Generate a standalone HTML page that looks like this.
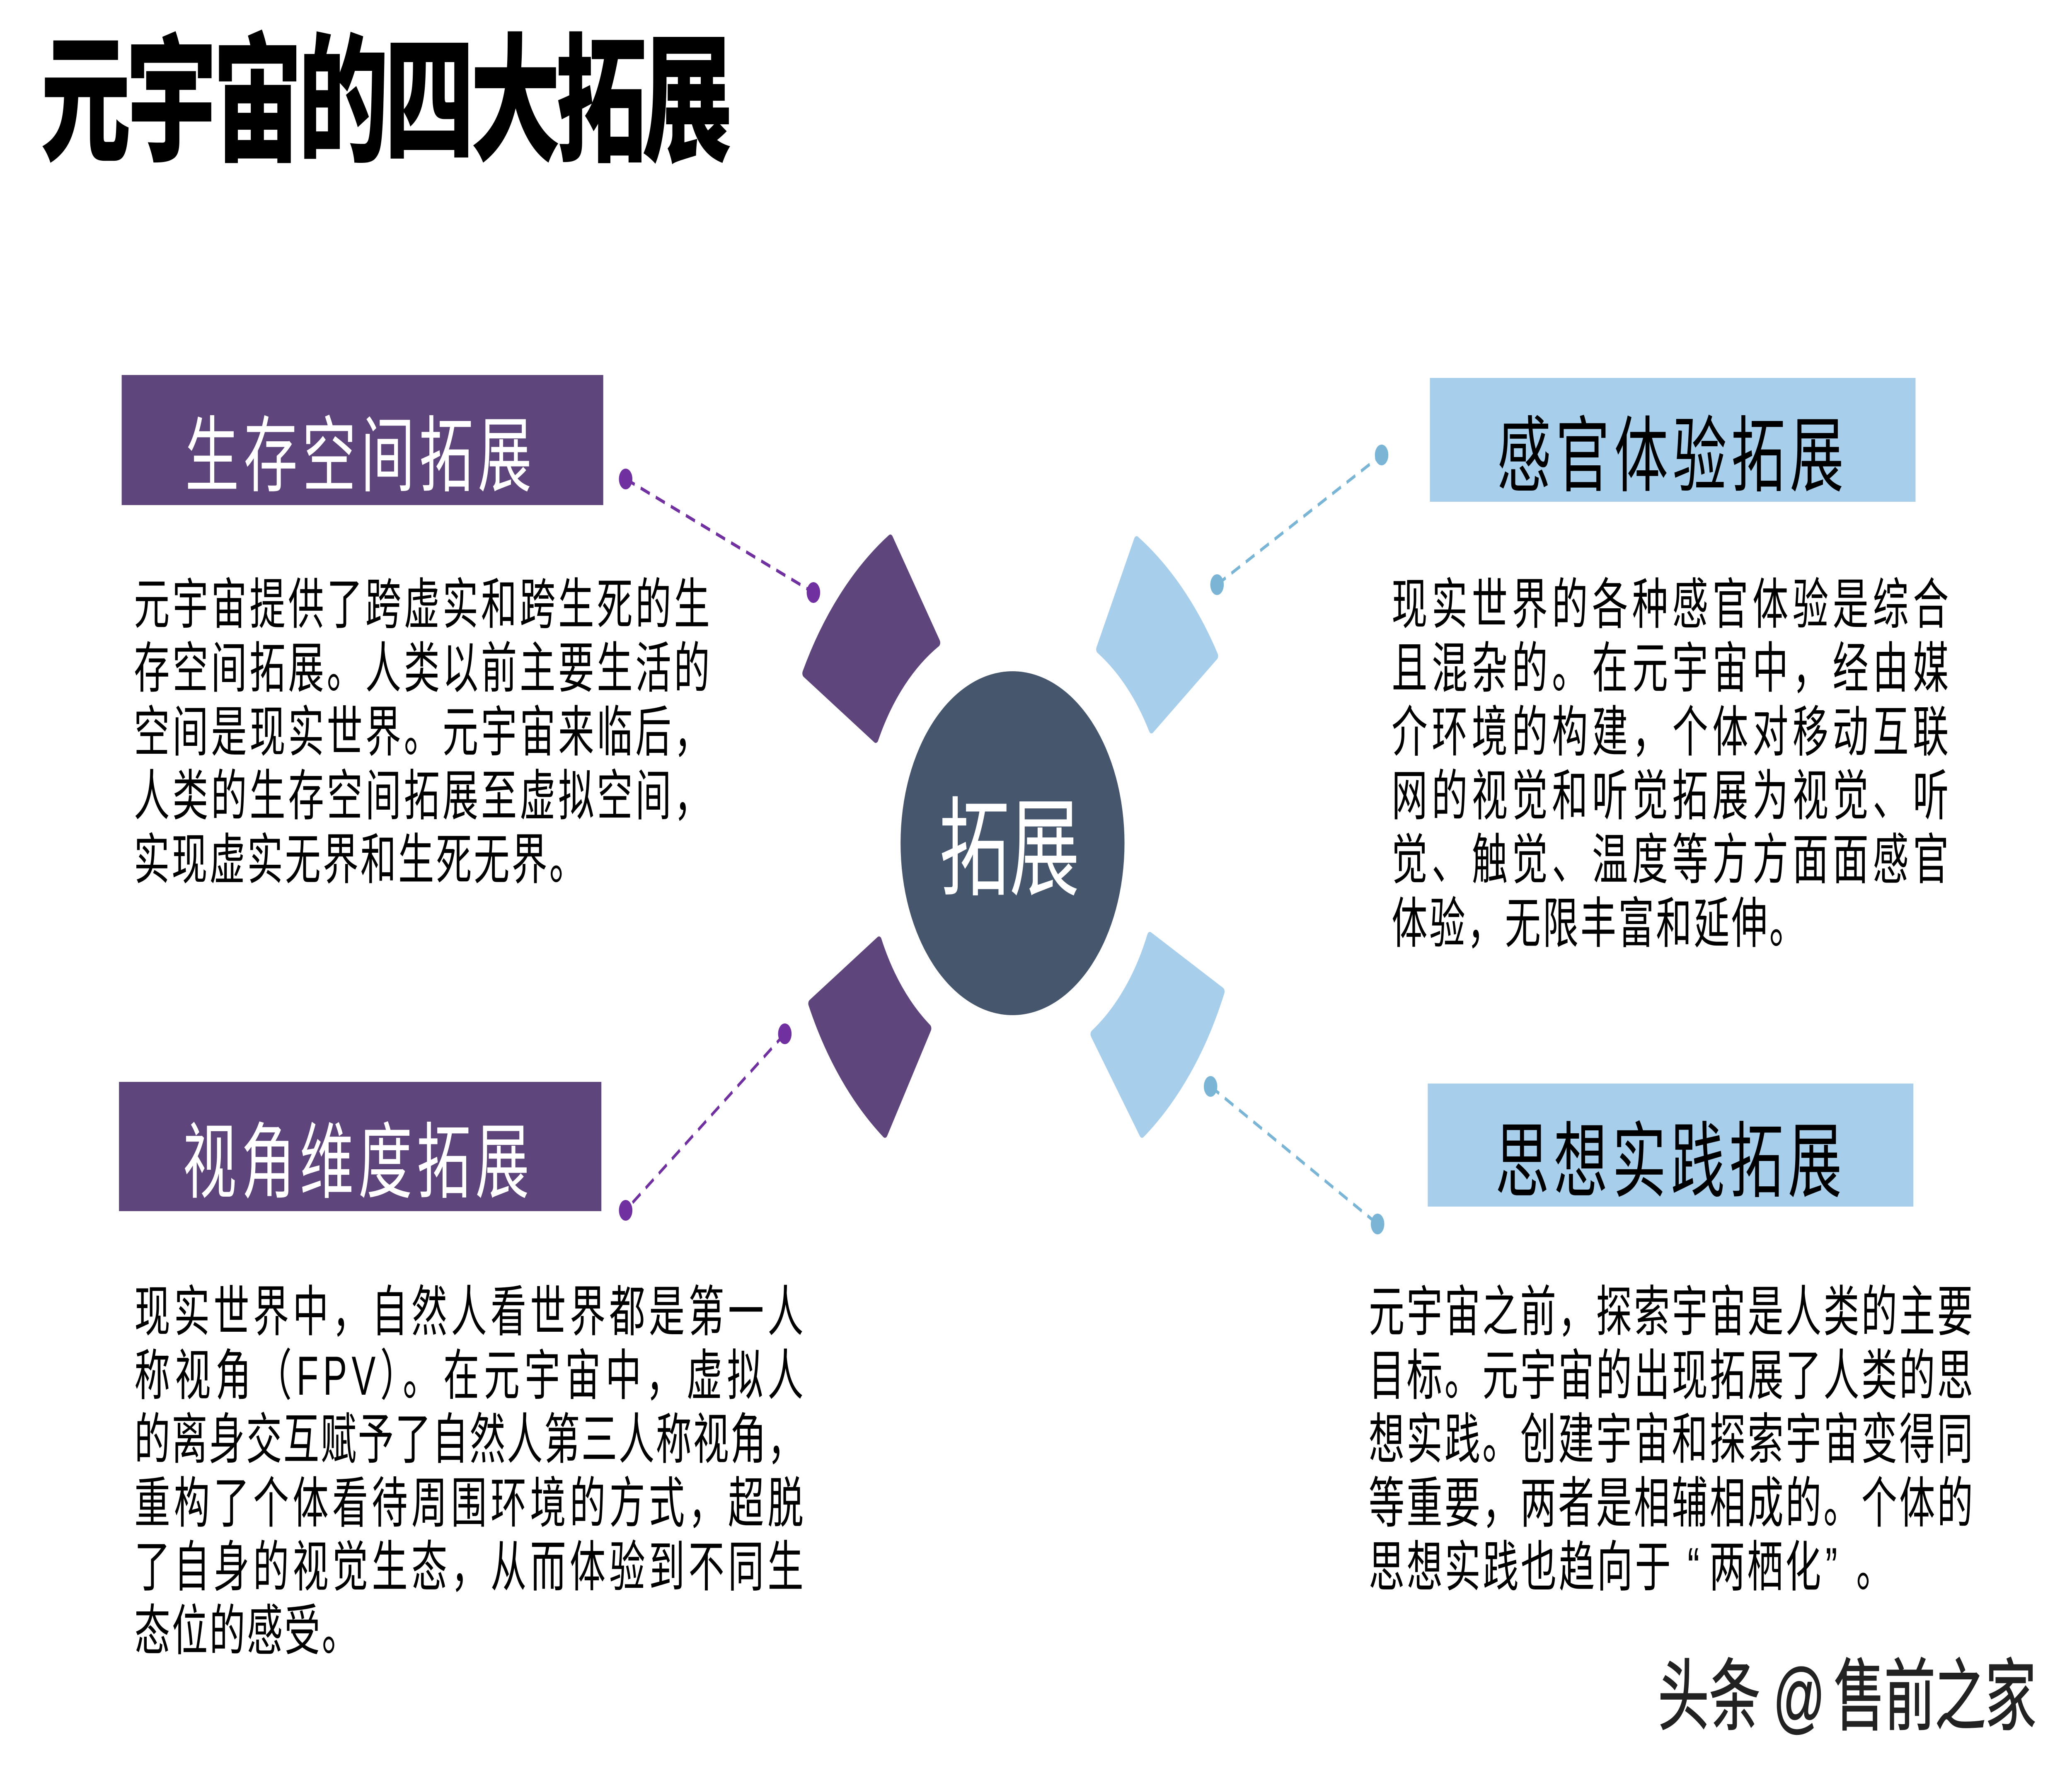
<!DOCTYPE html>
<html lang="zh"><head><meta charset="utf-8"><title>元宇宙的四大拓展</title>
<style>
html,body{margin:0;padding:0;background:#fff;width:100%;height:100%}
svg{display:block;width:100vw;height:100vh}
text{font-family:"Liberation Sans","WenQuanYi Zen Hei","Noto Sans CJK SC",sans-serif;white-space:pre}
.t{font-family:"Liberation Sans","Noto Sans CJK SC",sans-serif;font-size:335px;font-weight:900;fill:#000}
.h{font-size:200px;letter-spacing:17px}
.b{font-size:133px;fill:#000}
.w{font-family:"Liberation Sans","Noto Sans CJK SC",sans-serif;font-size:190px}
</style></head><body>
<svg viewBox="0 0 7680 4320" preserveAspectRatio="none" xmlns="http://www.w3.org/2000/svg">
<rect width="7680" height="4320" fill="#fff"/>
<text class="t" x="150" y="362" textLength="2565">元宇宙的四大拓展</text>

<rect x="451" y="905" width="1785" height="314" fill="#5E457B"/>
<rect x="5300" y="912" width="1800" height="299" fill="#A7CEEA"/>
<rect x="441" y="2611" width="1788" height="312" fill="#5E457B"/>
<rect x="5292" y="2615" width="1800" height="297" fill="#A7CEEA"/>

<text class="h" x="686" y="1170" fill="#fff">生存空间拓展</text>
<text class="h" x="5549" y="1170" fill="#000">感官体验拓展</text>
<text class="h" x="677" y="2875" fill="#fff">视角维度拓展</text>
<text class="h" x="5542" y="2873" fill="#000">思想实践拓展</text>

<circle cx="3753" cy="2035" r="415" fill="#46566C"/>
<text x="3482" y="2140" font-size="260" fill="#fff">拓展</text>

<g stroke-width="20" stroke-linejoin="round">
<path d="M2984 1625A875 875 0 0 1 3300 1300L3475 1551A555 555 0 0 0 3246 1783Z" fill="#5E457B" stroke="#5E457B"/>
<path d="M4213 1304A875 875 0 0 1 4505 1583L4268 1760A555 555 0 0 0 4073 1567Z" fill="#A7CEEA" stroke="#A7CEEA"/>
<path d="M3258 2270A545 545 0 0 0 3442 2482L3280 2736A850 850 0 0 1 3006 2422Z" fill="#5E457B" stroke="#5E457B"/>
<path d="M4262 2259L4529 2393A860 860 0 0 1 4233 2736L4052 2496A550 550 0 0 0 4262 2259Z" fill="#A7CEEA" stroke="#A7CEEA"/>
</g>

<g stroke="#7030A0" stroke-width="8" stroke-dasharray="36 24" fill="none">
<line x1="2319" y1="1156" x2="3015" y2="1430"/>
<line x1="2909" y1="2495" x2="2319" y2="2921"/>
</g>
<g stroke="#7BB5D6" stroke-width="8" stroke-dasharray="36 24" fill="none">
<line x1="4511" y1="1411" x2="5121" y2="1098"/>
<line x1="4487" y1="2622" x2="5106" y2="2954"/>
</g>
<g fill="#7030A0">
<circle cx="2319" cy="1156" r="25"/><circle cx="3015" cy="1430" r="25"/>
<circle cx="2909" cy="2495" r="25"/><circle cx="2319" cy="2921" r="25"/>
</g>
<g fill="#7BB5D6">
<circle cx="5121" cy="1098" r="25"/><circle cx="4511" cy="1411" r="25"/>
<circle cx="4487" cy="2622" r="25"/><circle cx="5106" cy="2954" r="25"/>
</g>

<g class="b">
<text class="b" x="496" y="1505" textLength="2135">元宇宙提供了跨虚实和跨生死的生</text>
<text class="b" x="496" y="1659" textLength="2135">存空间拓展。人类以前主要生活的</text>
<text class="b" x="496" y="1813" textLength="2135">空间是现实世界。元宇宙来临后，</text>
<text class="b" x="496" y="1967" textLength="2135">人类的生存空间拓展至虚拟空间，</text>
<text class="b" x="496" y="2121" letter-spacing="7">实现虚实无界和生死无界。</text>

<text class="b" x="5158" y="1505" textLength="2065">现实世界的各种感官体验是综合</text>
<text class="b" x="5158" y="1659" textLength="2065">且混杂的。在元宇宙中，经由媒</text>
<text class="b" x="5158" y="1813" textLength="2065">介环境的构建，个体对移动互联</text>
<text class="b" x="5158" y="1967" textLength="2065">网的视觉和听觉拓展为视觉、听</text>
<text class="b" x="5158" y="2121" textLength="2065">觉、触觉、温度等方方面面感官</text>
<text class="b" x="5158" y="2275" letter-spacing="7">体验，无限丰富和延伸。</text>

<text class="b" x="498" y="3212" textLength="2480">现实世界中，自然人看世界都是第一人</text>
<text class="b" x="498" y="3366" textLength="2480">称视角（FPV）。在元宇宙中，虚拟人</text>
<text class="b" x="498" y="3520" textLength="2480">的离身交互赋予了自然人第三人称视角，</text>
<text class="b" x="498" y="3674" textLength="2480">重构了个体看待周围环境的方式，超脱</text>
<text class="b" x="498" y="3828" textLength="2480">了自身的视觉生态，从而体验到不同生</text>
<text class="b" x="498" y="3982" letter-spacing="6">态位的感受。</text>

<text class="b" x="5073" y="3212" textLength="2240">元宇宙之前，探索宇宙是人类的主要</text>
<text class="b" x="5073" y="3366" textLength="2240">目标。元宇宙的出现拓展了人类的思</text>
<text class="b" x="5073" y="3520" textLength="2240">想实践。创建宇宙和探索宇宙变得同</text>
<text class="b" x="5073" y="3674" textLength="2240">等重要，两者是相辅相成的。个体的</text>
<text class="b" x="5073" y="3828" letter-spacing="8">思想实践也趋向于<tspan x="6255">“</tspan><tspan x="6335">两栖化</tspan><tspan x="6766">”</tspan><tspan x="6880">。</tspan></text>
</g>

<text class="w" y="4160" fill="#222" stroke="#222" stroke-width="2"><tspan x="6145">头条</tspan><tspan x="6572">@</tspan><tspan x="6797" letter-spacing="-3">售前之家</tspan></text>
</svg>
</body></html>
